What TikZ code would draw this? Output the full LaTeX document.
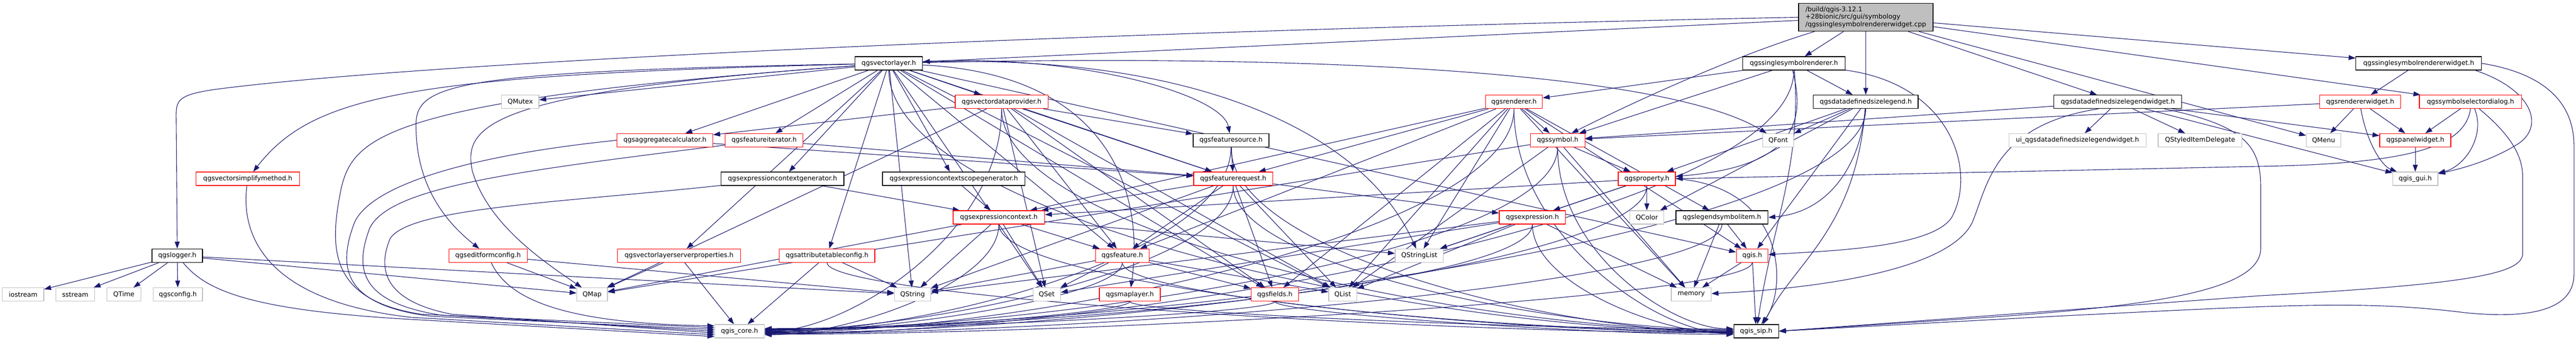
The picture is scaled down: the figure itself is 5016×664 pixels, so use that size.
\documentclass[tikz,border=0pt]{standalone}
\usepackage{fontspec}
\setmainfont{DejaVu Sans}
\usetikzlibrary{arrows.meta}
\definecolor{edgeblue}{HTML}{191970}
\definecolor{greyS}{HTML}{BFBFBF}
\definecolor{redS}{HTML}{FF0000}
\pgfdeclarelayer{edges}
\pgfsetlayers{edges,main}
\tikzset{
  nbox/.style={rectangle, line width=1.3bp, fill=white, minimum height=26bp, inner sep=0pt, text=black, font=\fontsize{12.7bp}{15bp}\selectfont},
  nblack/.style={nbox, draw=black},
  nred/.style={nbox, draw=redS},
  ngray/.style={nbox, draw=greyS},
  topnode/.style={rectangle, draw=black, fill=greyS, line width=1.3bp, minimum width=262bp, minimum height=54.5bp, inner sep=0pt, align=left, font=\fontsize{12.7bp}{14.5bp}\selectfont},
  dep/.style={draw=edgeblue, line width=1.1bp, -{Triangle[length=13.5bp,width=9.5bp]}},
}
\begin{document}
\begin{tikzpicture}[x=1bp,y=1bp]
\useasboundingbox (0,0) rectangle (5016,664);
% rank 0
\node[topnode] (top) at (3633,630.4) {/build/qgis-3.12.1\\+28bionic/src/gui/symbology\\/qgssinglesymbolrendererwidget.cpp};
% rank 1
\node[nblack,minimum width=131.3bp] (vl) at (1730.7,540.6) {qgsvectorlayer.h};
\node[nblack,minimum width=199.4bp] (ssr) at (3493,540.6) {qgssinglesymbolrenderer.h};
\node[nblack,minimum width=244.6bp] (ssrw) at (4709.7,540.6) {qgssinglesymbolrendererwidget.h};
% rank 2
\node[ngray,minimum width=72.6bp] (qmutex) at (1013,465.7) {QMutex};
\node[nred,minimum width=180.7bp] (vdp) at (1950.3,465.7) {qgsvectordataprovider.h};
\node[nred,minimum width=110.6bp] (ren) at (2948,465.7) {qgsrenderer.h};
\node[nblack,minimum width=204bp] (ddsl) at (3633,465.7) {qgsdatadefinedsizelegend.h};
\node[nblack,minimum width=249bp] (ddslw) at (4123.8,465.7) {qgsdatadefinedsizelegendwidget.h};
\node[nred,minimum width=157.3bp] (rw) at (4595.7,465.7) {qgsrendererwidget.h};
\node[nred,minimum width=198.9bp] (ssd) at (4810.5,465.7) {qgssymbolselectordialog.h};
% rank 3
\node[nred,minimum width=186.7bp] (agg) at (1294.7,390.8) {qgsaggregatecalculator.h};
\node[nred,minimum width=151bp] (fit) at (1487.8,390.8) {qgsfeatureiterator.h};
\node[nblack,minimum width=147.4bp] (fsrc) at (2397,390.8) {qgsfeaturesource.h};
\node[nred,minimum width=106bp] (sym) at (3033,390.8) {qgssymbol.h};
\node[ngray,minimum width=60.4bp] (qfont) at (3462.5,390.8) {QFont};
\node[ngray,minimum width=267bp] (ui) at (4045.2,390.8) {ui\_qgsdatadefinedsizelegendwidget.h};
\node[ngray,minimum width=163.4bp] (qsid) at (4284,390.8) {QStyledItemDelegate};
\node[ngray,minimum width=67bp] (qmenu) at (4524.5,390.8) {QMenu};
\node[nred,minimum width=138.3bp] (pw) at (4703,390.8) {qgspanelwidget.h};
% rank 4
\node[nred,minimum width=201.6bp] (vsm) at (482.5,315.9) {qgsvectorsimplifymethod.h};
\node[nblack,minimum width=239bp] (ecg) at (1523.8,315.9) {qgsexpressioncontextgenerator.h};
\node[nblack,minimum width=277.7bp] (ecsg) at (1857.2,315.9) {qgsexpressioncontextscopegenerator.h};
\node[nred,minimum width=153.7bp] (freq) at (2401.2,315.9) {qgsfeaturerequest.h};
\node[nred,minimum width=111.3bp] (prop) at (3206.7,315.9) {qgsproperty.h};
\node[ngray,minimum width=88bp] (gui) at (4703,315.9) {qgis\_gui.h};
% rank 5
\node[nred,minimum width=178bp] (ec) at (1945,240.6) {qgsexpressioncontext.h};
\node[nred,minimum width=129bp] (expr) at (2983.8,240.6) {qgsexpression.h};
\node[ngray,minimum width=66.7bp] (qcolor) at (3206.7,240.6) {QColor};
\node[nblack,minimum width=179.4bp] (lsi) at (3353,240.6) {qgslegendsymbolitem.h};
% rank 6
\node[nblack,minimum width=98.3bp] (log) at (345.2,166.1) {qgslogger.h};
\node[nred,minimum width=152.7bp] (efc) at (950.3,166.1) {qgseditformconfig.h};
\node[nred,minimum width=239.3bp] (vlsp) at (1322.3,166.1) {qgsvectorlayerserverproperties.h};
\node[nred,minimum width=186bp] (atc) at (1610.3,166.1) {qgsattributetableconfig.h};
\node[nred,minimum width=104bp] (feat) at (2185.3,166.1) {qgsfeature.h};
\node[ngray,minimum width=94bp] (qsl) at (2763.7,166.1) {QStringList};
\node[nred,minimum width=61.7bp] (qgis) at (3411.8,166.1) {qgis.h};
% rank 7
\node[ngray,minimum width=80.6bp] (ios) at (45,90.4) {iostream};
\node[ngray,minimum width=75bp] (sst) at (146.5,90.4) {sstream};
\node[ngray,minimum width=65.7bp] (qtime) at (241.2,90.4) {QTime};
\node[ngray,minimum width=96bp] (conf) at (346.3,90.4) {qgsconfig.h};
\node[ngray,minimum width=59.4bp] (qmap) at (1153,90.4) {QMap};
\node[ngray,minimum width=70.6bp] (qstring) at (1777,90.4) {QString};
\node[ngray,minimum width=53.3bp] (qset) at (2038.3,90.4) {QSet};
\node[nred,minimum width=118.6bp] (ml) at (2200,90.4) {qgsmaplayer.h};
\node[nred,minimum width=92.3bp] (fields) at (2482.2,90.4) {qgsfields.h};
\node[ngray,minimum width=54.4bp] (qlist) at (2614.5,90.4) {QList};
\node[ngray,minimum width=77.7bp] (mem) at (3293.2,90.4) {memory};
% rank 8
\node[ngray,minimum width=96.6bp] (core) at (1440,19) {qgis\_core.h};
\node[nblack,minimum width=87.3bp] (sip) at (3419.7,19) {qgis\_sip.h};

\begin{pgfonlayer}{edges}
% top
\draw[dep] (top) -- (vl);
\draw[dep] (top.west) .. controls (2000,600) and (800,540) .. (420,490) .. controls (350,480) and (343,470) .. (343,440) -- (log);
\draw[dep] (top) -- (ssr);
\draw[dep] ([xshift=-100bp]top.south) .. controls (3360,550) and (3150,450) .. (sym);
\draw[dep] (top) -- (ddsl);
\draw[dep] (top) -- (ddslw);
\draw[dep] (top) -- (ssrw);
\draw[dep] (top) -- (ssd);
\draw[dep] (top) -- (qmenu);
% qgsvectorlayer.h
\draw[dep] (vl) -- (vdp);
\draw[dep] (vl) -- (qmutex);
\draw[dep] (vl) -- (agg);
\draw[dep] (vl) -- (fit);
\draw[dep] (vl) .. controls (2100,560) and (2380,480) .. (fsrc);
\draw[dep] (vl) .. controls (800,518) and (610,480) .. (vsm);
\draw[dep] (vl) -- (ecg);
\draw[dep] (vl) -- (ecsg);
\draw[dep] (vl) -- (freq);
\draw[dep] (vl) .. controls (880,525) and (810,500) .. (810,420) .. controls (810,300) and (870,230) .. (efc);
\draw[dep] (vl) -- (vlsp);
\draw[dep] (vl) -- (atc);
\draw[dep] (vl) -- (feat);
\draw[dep] (vl) .. controls (2150,520) and (2230,300) .. (ml);
\draw[dep] (vl) -- (fields);
\draw[dep] (vl) -- (qlist);
\draw[dep] (vl) .. controls (2300,560) and (2650,420) .. (qsl);
\draw[dep] (vl) -- (qstring);
\draw[dep] (vl) -- (qset);
\draw[dep] (vl) .. controls (950,485) and (900,420) .. (920,330) .. controls (950,230) and (1050,160) .. (qmap);
\draw[dep] (vl) .. controls (2600,560) and (3250,520) .. (qfont);
\draw[dep] (vl) -- (qgis);
\draw[dep] (vl) .. controls (760,470) and (690,400) .. (665,300) .. controls (640,180) and (640,80) .. (820,52) -- (core.172);
\draw[dep] (vl) .. controls +(0,-300) and +(-600,0) .. (sip.180);
% qgsvectordataprovider.h
\draw[dep] (vdp) -- (agg);
\draw[dep] (vdp) -- (fsrc);
\draw[dep] (vdp) -- (freq);
\draw[dep] (vdp) -- (feat);
\draw[dep] (vdp) -- (fields);
\draw[dep] (vdp) -- (qlist);
\draw[dep] (vdp) -- (qset);
\draw[dep] (vdp) -- (qmap);
\draw[dep] (vdp) .. controls +(0,-260) and +(160,0) .. (core.0);
\draw[dep] (vdp) .. controls +(0,-260) and +(-500,0) .. (sip.178);
% qgsrenderer.h
\draw[dep] (ren) -- (sym);
\draw[dep] (ren) -- (freq);
\draw[dep] (ren) -- (lsi);
\draw[dep] (ren) -- (feat);
\draw[dep] (ren) -- (fields);
\draw[dep] (ren) -- (qlist);
\draw[dep] (ren) -- (qsl);
\draw[dep] (ren) -- (qgis);
\draw[dep] (ren) -- (mem);
\draw[dep] (ren) -- (ec);
\draw[dep] (ren) .. controls +(0,-260) and +(500,0) .. (core.-3);
\draw[dep] (ren) .. controls +(0,-260) and +(-150,0) .. (sip.185);
% qgssymbol.h
\draw[dep] (sym) -- (prop);
\draw[dep] (sym) -- (qlist);
\draw[dep] (sym) -- (qmap);
\draw[dep] (sym) -- (mem);
\draw[dep] (sym) .. controls +(0,-220) and +(540,0) .. (core.3);
\draw[dep] (sym) .. controls +(0,-220) and +(-120,0) .. (sip.174);
% qgssinglesymbolrenderer.h
\draw[dep] (ssr) -- (ren);
\draw[dep] (ssr) -- (sym);
\draw[dep] (ssr) -- (ddsl);
\draw[dep] (ssr.-100) .. controls (3515,430) and (3500,340) .. (prop);
\draw[dep] (ssr) .. controls (3800,500) and (3850,330) .. (3800,240) .. controls (3760,180) and (3550,175) .. (qgis);
\draw[dep] (ssr) .. controls +(0,-300) and +(700,0) .. (core.-6);
\draw[dep] (ssr) .. controls +(15,-200) and +(30,200) .. (sip.80);
% qgsdatadefinedsizelegend.h
\draw[dep] (ddsl) -- (qfont);
\draw[dep] (ddsl) -- (qcolor);
\draw[dep] (ddsl) .. controls +(-10,-120) and +(120,10) .. (lsi.east);
\draw[dep] (ddsl) -- (qgis);
\draw[dep] (ddsl) -- (prop);
\draw[dep] (ddsl) .. controls +(0,-260) and +(750,0) .. (core.6);
\draw[dep] (ddsl) .. controls +(-20,-250) and +(60,120) .. (sip.45);
% qgsdatadefinedsizelegendwidget.h
\draw[dep] (ddslw) -- (ui);
\draw[dep] (ddslw) -- (qsid);
\draw[dep] (ddslw) -- (pw);
\draw[dep] (ddslw) -- (gui);
\draw[dep] (ddslw) -- (sym);
\draw[dep] (ddslw.200) .. controls (3880,420) and (3870,300) .. (3840,230) .. controls (3790,130) and (3500,100) .. (mem);
\draw[dep] ([xshift=90bp]ddslw.south) .. controls (4370,420) and (4402,380) .. (4402,300) -- (4402,180) .. controls (4402,100) and (4200,70) .. (3900,48) -- (sip.east);
% qgssinglesymbolrendererwidget.h
\draw[dep] (ssrw) -- (rw);
\draw[dep] ([xshift=110bp]ssrw.south) .. controls (4930,490) and (4955,420) .. (4905,385) .. controls (4850,350) and (4790,335) .. (gui);
\draw[dep] (ssrw.east) .. controls (4960,520) and (5012,460) .. (5012,380) -- (5012,130) .. controls (5012,50) and (4900,45) .. (4800,55) .. controls (4600,80) and (4450,70) .. (4000,48) -- (sip.east);
% qgsrendererwidget.h
\draw[dep] (rw) -- (qmenu);
\draw[dep] (rw) -- (pw);
\draw[dep] (rw.-85) .. controls (4610,380) and (4640,340) .. (gui);
\draw[dep] (rw) -- (sym);
% qgssymbolselectordialog.h
\draw[dep] (ssd) -- (pw);
\draw[dep] ([xshift=8bp]ssd.south) .. controls (4840,400) and (4800,340) .. (gui);
\draw[dep] (ssd.south) .. controls (4800,380) and (4700,345) .. (4400,340) -- (prop.east);
\draw[dep] ([xshift=17bp]ssd.south) .. controls (4890,400) and (4912,360) .. (4912,320) -- (4912,170) .. controls (4912,130) and (4800,110) .. (4400,88) -- (sip.east);
% qgspanelwidget.h
\draw[dep] (pw) -- (gui);
% rank 3 / 4 sources
\draw[dep] (agg.west) .. controls (900,360) and (720,300) .. (690,230) .. controls (660,150) and (660,70) .. (840,48) -- (core.176);
\draw[dep] (agg) -- (freq);
\draw[dep] (fit) -- (freq);
\draw[dep] (fit) .. controls (1000,330) and (760,300) .. (720,220) .. controls (690,140) and (700,75) .. (860,50) -- (core.180);
\draw[dep] (fsrc) -- (freq);
\draw[dep] (fsrc) .. controls +(0,-220) and +(320,0) .. (core.-2);
\draw[dep] (fsrc) .. controls +(0,-220) and +(-340,0) .. (sip.182);
\draw[dep] (vsm) .. controls (470,220) and (500,80) .. (800,46) -- (core.188);
\draw[dep] (ecg) -- (ec);
\draw[dep] (ecg) .. controls (1100,270) and (800,260) .. (760,200) .. controls (730,130) and (760,75) .. (880,52) -- (core.184);
\draw[dep] (ecsg) -- (ec);
% qgsfeaturerequest.h
\draw[dep] (freq) -- (feat);
\draw[dep] (freq) -- (qlist);
\draw[dep] (freq) -- (expr);
\draw[dep] (freq) -- (ec);
\draw[dep] (freq) -- (qstring);
\draw[dep] (freq) -- (fields);
\draw[dep] (freq) .. controls +(0,-170) and +(320,0) .. (core.2);
\draw[dep] (freq) .. controls +(0,-170) and +(-340,0) .. (sip.176);
% qgsproperty.h
\draw[dep] (prop) -- (expr);
\draw[dep] (prop) -- (qcolor);
\draw[dep] (prop) -- (ec);
\draw[dep] (prop) -- (qsl);
\draw[dep] (prop) .. controls +(0,-170) and +(600,0) .. (core.-4);
\draw[dep] (prop.east) .. controls (3480,300) and (3480,100) .. (sip);
% qgsexpressioncontext.h
\draw[dep] (ec) -- (qstring);
\draw[dep] (ec) -- (qset);
\draw[dep] (ec) -- (feat);
\draw[dep] (ec) -- (qsl);
\draw[dep] (ec) -- (qmap);
\draw[dep] (ec) .. controls +(0,-130) and +(160,0) .. (core.-8);
\draw[dep] (ec) .. controls +(0,-130) and +(-500,0) .. (sip.183);
% qgsexpression.h
\draw[dep] (expr) -- (qsl);
\draw[dep] (expr) -- (qstring);
\draw[dep] (expr) -- (qlist);
\draw[dep] (expr) -- (qset);
\draw[dep] (expr) -- (mem);
\draw[dep] (expr) .. controls +(0,-130) and +(520,0) .. (core.4);
\draw[dep] (expr) .. controls +(0,-130) and +(-140,0) .. (sip.186);
% qgslegendsymbolitem.h
\draw[dep] (lsi) -- (qgis);
\draw[dep] (lsi) -- (mem);
\draw[dep] (lsi) .. controls +(0,-130) and +(650,0) .. (core.-5);
% qgslogger.h
\draw[dep] (log) -- (ios);
\draw[dep] (log) -- (sst);
\draw[dep] (log) -- (qtime);
\draw[dep] (log) -- (conf);
\draw[dep] (log) -- (qstring);
\draw[dep] (log) -- (qmap);
\draw[dep] (log) .. controls (400,100) and (480,60) .. (800,42) -- (core.192);
% rank 6 sources
\draw[dep] (efc) -- (qmap);
\draw[dep] (efc) -- (qstring);
\draw[dep] (efc) .. controls (990,80) and (1100,34) .. (core.168);
\draw[dep] (vlsp) -- (core);
\draw[dep] (vlsp) -- (qmap);
\draw[dep] (atc) -- (qstring);
\draw[dep] (atc) -- (core);
\draw[dep] (atc) .. controls +(0,-80) and +(-600,0) .. (sip.184);
\draw[dep] (feat) -- (qset);
\draw[dep] (feat) -- (fields);
\draw[dep] (feat) -- (qlist);
\draw[dep] (feat) -- (qstring);
\draw[dep] (feat) .. controls +(0,-80) and +(240,0) .. (core.-1);
\draw[dep] (feat) .. controls +(0,-80) and +(-420,0) .. (sip.181);
\draw[dep] (ml) .. controls +(0,-35) and +(250,0) .. (core.1);
\draw[dep] (ml) .. controls +(0,-35) and +(-400,0) .. (sip.175);
\draw[dep] (fields) .. controls +(0,-35) and +(350,0) .. (core.5);
\draw[dep] (fields) .. controls +(0,-35) and +(-300,0) .. (sip.188);
\draw[dep] (qgis) -- (mem);
\draw[dep] (qgis) -- (sip);
\draw[dep] (qgis) .. controls +(0,-80) and +(670,0) .. (core.-7);
\end{pgfonlayer}
\end{tikzpicture}
\end{document}
